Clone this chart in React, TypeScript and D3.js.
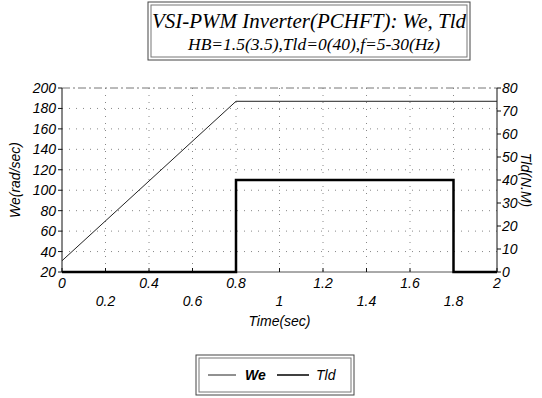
import React from "react";
import * as d3 from "d3";

// We (rad/sec) against time
const weTime = [0, 0.8, 2];
const weValues = [31, 187, 187];

// load torque Tld (N.M) against time
const tldTime = [0, 0.8, 0.8, 1.8, 1.8, 2];
const tldValues = [0, 0, 40, 40, 0, 0];

const xTicks = [0, 0.2, 0.4, 0.6, 0.8, 1, 1.2, 1.4, 1.6, 1.8, 2];
const weTicks = [20, 40, 60, 80, 100, 120, 140, 160, 180, 200];
const tldTicks = [0, 10, 20, 30, 40, 50, 60, 70, 80];

const W = 542;
const H = 398;
const margin = { top: 88, right: 45, bottom: 126, left: 62 };

const sans = "'Liberation Sans', Arial, sans-serif";
const serif = "'Liberation Serif', 'Times New Roman', serif";

const App = () => {
  const x = d3.scaleLinear().domain([0, 2]).range([margin.left, W - margin.right]);
  const yWe = d3.scaleLinear().domain([20, 200]).range([H - margin.bottom, margin.top]);
  const yTld = d3.scaleLinear().domain([0, 80]).range([H - margin.bottom, margin.top]);

  const weLine = d3
    .line<number>()
    .x((_, i) => x(weTime[i]))
    .y((d) => yWe(d));
  const tldLine = d3
    .line<number>()
    .x((_, i) => x(tldTime[i]))
    .y((d) => yTld(d));

  const x0 = x(0);
  const x1 = x(2);
  const yb = yWe(20);
  const yt = yWe(200);

  return (
    <svg width={W} height={H} style={{ position: "absolute", left: 0, top: 0, background: "#fff" }}>
      {/* title box */}
      <rect x={148} y={2} width={322} height={58} fill="none" stroke="#444" strokeWidth={1} />
      <rect x={151} y={5} width={316} height={52} fill="none" stroke="#777" strokeWidth={1} />
      <text x={309} y={28} textAnchor="middle" fontFamily={serif} fontStyle="italic" fontSize={21} fontWeight="500" textLength={314} lengthAdjust="spacingAndGlyphs">
        VSI-PWM Inverter(PCHFT): We, Tld
      </text>
      <text x={314} y={50} textAnchor="middle" fontFamily={serif} fontStyle="italic" fontSize={17} textLength={252} lengthAdjust="spacingAndGlyphs">
        HB=1.5(3.5),Tld=0(40),f=5-30(Hz)
      </text>

      {/* grid */}
      {xTicks.slice(1, -1).map((t) => (
        <line key={"gx" + t} x1={x(t)} x2={x(t)} y1={yt} y2={yb} stroke="#888" strokeWidth={1} strokeDasharray="1,6" />
      ))}
      {weTicks.slice(1, -1).map((t) => (
        <line key={"gy" + t} x1={x0} x2={x1} y1={yWe(t)} y2={yWe(t)} stroke="#888" strokeWidth={1} strokeDasharray="1,6" />
      ))}

      {/* frame */}
      <line x1={x0} x2={x1} y1={yt} y2={yt} stroke="#777" strokeWidth={1} strokeDasharray="8,3,2,3" />
      <line x1={x0} x2={x1} y1={yb} y2={yb} stroke="#555" strokeWidth={1} />
      <line x1={x0} x2={x0} y1={yt} y2={yb} stroke="#111" strokeWidth={1} />
      <line x1={x1} x2={x1} y1={yt} y2={yb} stroke="#111" strokeWidth={1} />

      {/* left axis */}
      {weTicks.map((t) => (
        <g key={"ly" + t}>
          <line x1={x0 - 4} x2={x0} y1={yWe(t)} y2={yWe(t)} stroke="#111" />
          <text x={x0 - 6} y={yWe(t) + 5} textAnchor="end" fontFamily={sans} fontStyle="italic" fontSize={14}>
            {t}
          </text>
        </g>
      ))}
      <text
        transform={`translate(20,${(yt + yb) / 2}) rotate(-90)`}
        textAnchor="middle"
        fontFamily={sans}
        fontStyle="italic"
        fontSize={14}
      >
        We(rad/sec)
      </text>

      {/* right axis */}
      {tldTicks.map((t) => (
        <g key={"ry" + t}>
          <line x1={x1} x2={x1 + 4} y1={yTld(t)} y2={yTld(t)} stroke="#111" />
          <text x={x1 + 5} y={yTld(t) + 5} textAnchor="start" fontFamily={sans} fontStyle="italic" fontSize={14}>
            {t}
          </text>
        </g>
      ))}
      <text
        transform={`translate(521,${(yt + yb) / 2}) rotate(90)`}
        textAnchor="middle"
        fontFamily={sans}
        fontStyle="italic"
        fontSize={14}
      >
        Tld(N.M)
      </text>

      {/* bottom axis */}
      {xTicks.map((t, i) => (
        <g key={"bx" + t}>
          <line x1={x(t)} x2={x(t)} y1={yb} y2={yb - 4} stroke="#111" />
          <text
            x={x(t)}
            y={i % 2 === 0 ? yb + 16 : yb + 34}
            textAnchor="middle"
            fontFamily={sans}
            fontStyle="italic"
            fontSize={14}
          >
            {t}
          </text>
        </g>
      ))}
      <text x={(x0 + x1) / 2} y={yb + 54} textAnchor="middle" fontFamily={sans} fontStyle="italic" fontSize={14}>
        Time(sec)
      </text>

      {/* series */}
      <path d={weLine(weValues) || ""} fill="none" stroke="#222" strokeWidth={1} />
      <path d={tldLine(tldValues) || ""} fill="none" stroke="#000" strokeWidth={2.5} />

      {/* legend */}
      <rect x={196} y={355} width={158} height={40} fill="none" stroke="#444" strokeWidth={1} />
      <rect x={199} y={358} width={152} height={34} fill="none" stroke="#777" strokeWidth={1} />
      <line x1={208} x2={236} y1={375} y2={375} stroke="#222" strokeWidth={1} />
      <text x={245} y={380} fontFamily={sans} fontStyle="italic" fontWeight="bold" fontSize={14}>
        We
      </text>
      <line x1={277} x2={309} y1={375} y2={375} stroke="#000" strokeWidth={1.5} />
      <text x={316} y={380} fontFamily={sans} fontStyle="italic" fontSize={14}>
        Tld
      </text>
    </svg>
  );
};

export default App;
